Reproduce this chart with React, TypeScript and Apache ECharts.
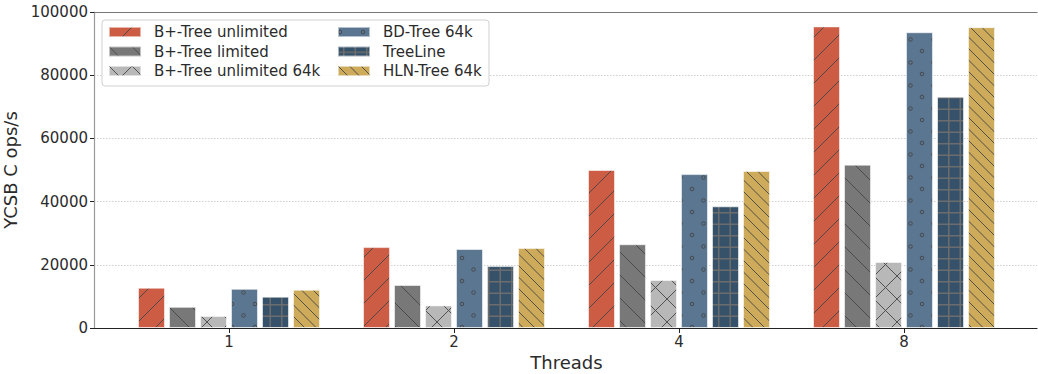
import React, { useEffect, useRef } from "react";
import * as echarts from "echarts";

const categories = ["1", "2", "4", "8"];
const seriesNames = [
  "B+-Tree unlimited",
  "B+-Tree limited",
  "B+-Tree unlimited 64k",
  "BD-Tree 64k",
  "TreeLine",
  "HLN-Tree 64k",
];
const bPlusUnlimited = [12750, 25600, 50000, 95450];
const bPlusLimited = [6700, 13600, 26500, 51700];
const bPlusUnlimited64k = [3800, 7150, 15200, 20900];
const bdTree64k = [12400, 25000, 48700, 93600];
const treeLine = [9900, 19600, 38500, 73200];
const hlnTree64k = [12100, 25300, 49700, 95200];
const yTicks = { min: 0, max: 100000, interval: 20000 };

const colors = ["#cd5c45", "#787878", "#b8b8b8", "#5b7691", "#36526a", "#cdab5b"];
const hatches = ["/", "\\", "x", "o", "+", "\\\\"];

const TILE = 23;
const HATCH = "rgba(70,70,70,0.9)";

function makePattern(bg: string, kind: string) {
  const c = document.createElement("canvas");
  c.width = TILE;
  c.height = TILE;
  const ctx = c.getContext("2d")!;
  ctx.fillStyle = bg;
  ctx.fillRect(0, 0, TILE, TILE);
  ctx.strokeStyle = HATCH;
  ctx.lineWidth = 1;
  const fwd = (offs: number[]) => {
    for (const k of offs) {
      ctx.beginPath();
      ctx.moveTo(k, TILE);
      ctx.lineTo(k + TILE, 0);
      ctx.stroke();
    }
  };
  const back = (offs: number[]) => {
    for (const k of offs) {
      ctx.beginPath();
      ctx.moveTo(k, 0);
      ctx.lineTo(k + TILE, TILE);
      ctx.stroke();
    }
  };
  if (kind === "/") fwd([-TILE, 0, TILE]);
  else if (kind === "\\") back([-TILE, 0, TILE]);
  else if (kind === "\\\\") back([-TILE, -TILE / 2, 0, TILE / 2, TILE]);
  else if (kind === "x") {
    fwd([-TILE, 0, TILE]);
    back([-TILE, 0, TILE]);
  } else if (kind === "+") {
    ctx.strokeStyle = "rgba(110,110,110,0.95)";
    ctx.lineWidth = 1.5;
    for (const p of [5.75, 17.25]) {
      ctx.beginPath();
      ctx.moveTo(p, 0);
      ctx.lineTo(p, TILE);
      ctx.stroke();
      ctx.beginPath();
      ctx.moveTo(0, p);
      ctx.lineTo(TILE, p);
      ctx.stroke();
    }
  } else if (kind === "o") {
    const pts = [
      [2, 5],
      [2 + TILE, 5],
      [2 + TILE / 2, 5 + TILE / 2],
    ];
    for (const [x, y] of pts) {
      ctx.beginPath();
      ctx.arc(x, y, 1.8, 0, Math.PI * 2);
      ctx.stroke();
    }
  }
  return {
    image: c.toDataURL(),
    imageWidth: TILE,
    imageHeight: TILE,
    repeat: "repeat",
  };
}

export default function App() {
  const ref = useRef<HTMLDivElement>(null);
  useEffect(() => {
    if (!ref.current) return;
    const chart = echarts.init(ref.current, null, { renderer: "svg" });
    const values = [bPlusUnlimited, bPlusLimited, bPlusUnlimited64k, bdTree64k, treeLine, hlnTree64k];
    const font = "'DejaVu Sans', sans-serif";
    const textColor = "#2b2b2b";
    const series = seriesNames.map((name, i) => ({
      name,
      type: "bar",
      xAxisIndex: 2,
      yAxisIndex: 1,
      data: values[i],
      barWidth: 27,
      barGap: "14.8%",
      itemStyle: {
        color: makePattern(colors[i], hatches[i]),
        borderColor: "rgba(255,255,255,0.55)",
        borderWidth: 1,
      },
      emphasis: { disabled: true },
    }));
    const legendCommon = {
      orient: "vertical",
      top: 24.5,
      padding: 0,
      itemWidth: 32,
      itemHeight: 10,
      itemGap: 4.5,
      icon: "rect",
      selectedMode: false,
      textStyle: {
        fontFamily: font,
        fontSize: 15,
        color: textColor,
        lineHeight: 15,
        padding: [0, 0, 0, 8],
      },
    };
    chart.setOption({
      animation: false,
      textStyle: { fontFamily: font },
      grid: [
        { left: 94, right: 1, top: 12, bottom: 46, outerBoundsMode: "none", containLabel: false },
        { left: 116.5, right: 21.5, top: 12, bottom: 46, outerBoundsMode: "none", containLabel: false },
      ],
      graphic: [
        {
          type: "rect",
          shape: { x: 102, y: 20, width: 387, height: 66, r: 3 },
          style: { fill: "rgba(255,255,255,0.85)", stroke: "#d0d0d0", lineWidth: 1 },
          z: 5,
        },
      ],
      legend: [
        { ...legendCommon, left: 108, data: seriesNames.slice(0, 3), z: 10 },
        { ...legendCommon, left: 337, data: seriesNames.slice(3), z: 10 },
      ],
      xAxis: [
        {
          gridIndex: 0,
          type: "value",
          min: 0,
          max: 1,
          axisLine: { show: true, lineStyle: { color: "#222", width: 1.2 } },
          axisTick: { show: false },
          axisLabel: { show: false },
          splitLine: { show: false },
        },
        {
          gridIndex: 0,
          type: "value",
          position: "top",
          min: 0,
          max: 1,
          axisLine: { show: true, lineStyle: { color: "#777", width: 1.2 } },
          axisTick: { show: false },
          axisLabel: { show: false },
          splitLine: { show: false },
        },
        {
          gridIndex: 1,
          type: "category",
          data: categories,
          axisLine: { show: false },
          axisTick: { show: true, alignWithLabel: true, length: 5, lineStyle: { color: "#222" } },
          axisLabel: { fontSize: 15, color: textColor, margin: 6, fontFamily: font },
          name: "Threads",
          nameLocation: "middle",
          nameGap: 24,
          nameTextStyle: { fontSize: 18, color: textColor, fontFamily: font },
        },
      ],
      yAxis: [
        {
          gridIndex: 0,
          type: "value",
          min: yTicks.min,
          max: yTicks.max,
          interval: yTicks.interval,
          axisLine: { show: true, lineStyle: { color: "#999", width: 1.2 } },
          axisTick: { show: true, length: 4, lineStyle: { color: "#222" } },
          axisLabel: {
            fontSize: 15,
            color: textColor,
            margin: 6,
            fontFamily: font,
            formatter: (v: number) => String(v),
          },
          splitLine: { show: true, lineStyle: { color: "#cfcfcf", type: [1.5, 1.5], width: 1 } },
          name: "YCSB C ops/s",
          nameLocation: "middle",
          nameGap: 67,
          nameRotate: 90,
          nameTextStyle: { fontSize: 18, color: textColor, fontFamily: font },
        },
        {
          gridIndex: 1,
          type: "value",
          min: yTicks.min,
          max: yTicks.max,
          interval: yTicks.interval,
          show: false,
        },
      ],
      series,
    });
    return () => chart.dispose();
  }, []);
  return <div ref={ref} style={{ width: 1038, height: 374, position: "absolute", left: 0, top: 0 }} />;
}
